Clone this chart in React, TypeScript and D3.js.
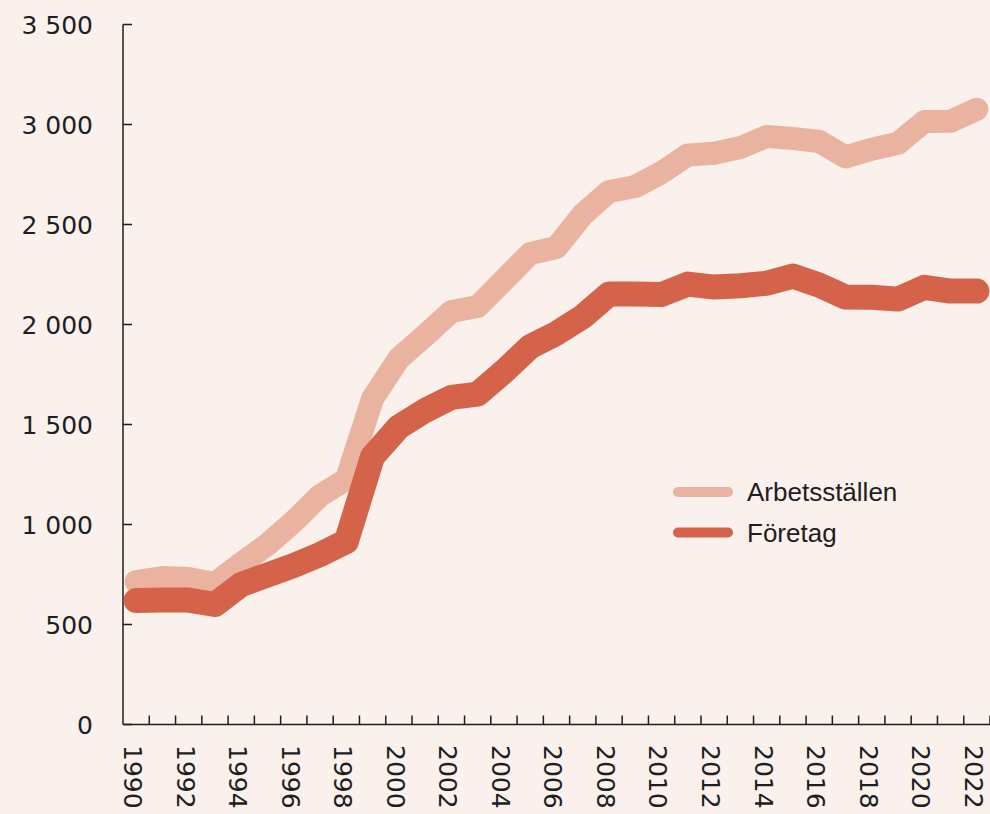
import React from 'react';
import * as d3 from 'd3';

const years = [1990, 1991, 1992, 1993, 1994, 1995, 1996, 1997, 1998, 1999, 2000, 2001, 2002, 2003, 2004, 2005, 2006,
  2007, 2008, 2009, 2010, 2011, 2012, 2013, 2014, 2015, 2016, 2017, 2018, 2019, 2020, 2021, 2022];
const arbetsstallen = [715, 735, 730, 705, 805, 900, 1015, 1145, 1225, 1630, 1830, 1945, 2065, 2090, 2222, 2355, 2385,
  2550, 2665, 2690, 2760, 2848, 2856, 2885, 2940, 2930, 2915, 2838, 2876, 2906, 3015, 3016, 3076];
const foretag = [620, 622, 622, 600, 700, 748, 795, 850, 915, 1340, 1488, 1570, 1636, 1652, 1765, 1889, 1956,
  2039, 2152, 2152, 2150, 2202, 2187, 2194, 2206, 2242, 2197, 2137, 2136, 2127, 2186, 2167, 2167];
const yTicks = [0, 500, 1000, 1500, 2000, 2500, 3000, 3500];
const xLabels = [1990, 1992, 1994, 1996, 1998, 2000, 2002, 2004, 2006, 2008, 2010, 2012, 2014, 2016, 2018, 2020, 2022];
const xTickYears = [1991, 1992, 1993, 1994, 1995, 1996, 1997, 1998, 1999, 2000, 2001, 2002, 2003, 2004, 2005, 2006,
  2007, 2008, 2009, 2010, 2011, 2012, 2013, 2014, 2015, 2016, 2017, 2018, 2019, 2020, 2021, 2022, 2023];

const series = [
  { name: 'Arbetsställen', values: arbetsstallen, color: '#eab3a0', width: 23 },
  { name: 'Företag', values: foretag, color: '#d4634a', width: 25 },
];

const W = 990, H = 814;
const bg = '#faf0ec';
const ink = '#1e1e1e';
const tickFont = '"DejaVu Sans", sans-serif';

export default function App() {
  // linjär tidsskala, punkterna mitt i varje år
  const x = d3.scaleLinear().domain([1990, 2023]).range([123, 990]);
  const y = d3.scaleLinear().domain([0, 3500]).range([724.5, 24.5]);
  const fmt = d3.formatLocale({ decimal: ',', thousands: ' ', grouping: [3], currency: ['', ''] }).format(',');

  const line = d3.line<number>()
    .x((_, i) => x(years[i] + 0.5))
    .y(d => y(d))
    .curve(d3.curveLinear);

  return (
    <svg width={W} height={H} style={{ position: 'absolute', left: 0, top: 0, display: 'block' }}>
      <rect width={W} height={H} fill={bg} />

      {/* y-axel */}
      <g>
        <line x1={123} x2={123} y1={y(3500)} y2={y(0)} stroke={ink} strokeWidth={1.5} />
        {yTicks.map(t => (
          <g key={t}>
            <line x1={123} x2={132} y1={y(t)} y2={y(t)} stroke={ink} strokeWidth={1.5} />
            <text x={93} y={y(t)} dy="0.36em" textAnchor="end" fontFamily={tickFont}
              fontSize={25} fill={ink}>{fmt(t)}</text>
          </g>
        ))}
      </g>

      {/* x-axel */}
      <g>
        <line x1={123} x2={990} y1={y(0)} y2={y(0)} stroke={ink} strokeWidth={1.5} />
        {xTickYears.map(t => (
          <line key={t} x1={x(t)} x2={x(t)} y1={y(0)} y2={y(0) - 9} stroke={ink} strokeWidth={1.5} />
        ))}
        {xLabels.map(t => (
          <text key={t} transform={`translate(${x(t)},745) rotate(90)`} y={-1} textAnchor="start"
            fontFamily={tickFont} fontSize={25} fill={ink}>{t}</text>
        ))}
      </g>

      {/* linjer */}
      {series.map(s => (
        <path key={s.name} d={line(s.values) || ''} fill="none" stroke={s.color} strokeWidth={s.width}
          strokeLinejoin="round" strokeLinecap="round" />
      ))}

      {/* legend */}
      {series.map((s, i) => (
        <g key={s.name} transform={`translate(678,${492 + i * 40.5})`}>
          <line x1={0} x2={50} y1={0} y2={0} stroke={s.color} strokeWidth={10} strokeLinecap="round" />
          <text x={69} y={0} dy="0.36em" fontFamily='"Liberation Sans", Arial, sans-serif' fontSize={26}
            fill={ink}>{s.name}</text>
        </g>
      ))}
    </svg>
  );
}
